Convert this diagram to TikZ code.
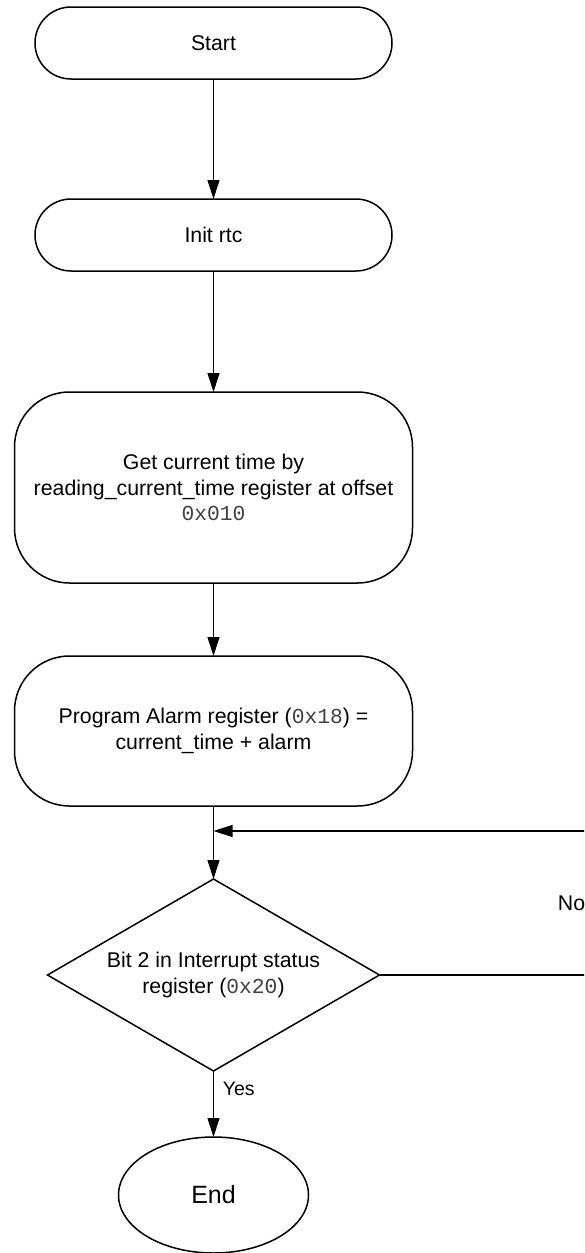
\documentclass[tikz,border=0pt]{standalone}
\usepackage{fontspec}
\setmainfont{Liberation Sans}
\setmonofont{Liberation Mono}
\usepackage{tikz}
\usetikzlibrary{positioning, shapes.geometric, arrows.meta}

\newcommand{\regval}[1]{{\ttfamily\color{black!75}#1}}

\begin{document}
\begin{tikzpicture}[
    x=1pt, y=-1pt,
    font=\fontsize{21.3}{25.5}\selectfont,
    every node/.style={outer sep=0pt},
    term/.style={draw, line width=1.5pt, rounded corners=36pt, minimum width=357pt, minimum height=72pt},
    proc/.style={draw, line width=1.5pt, rounded corners=55pt, minimum width=398pt, align=center},
    test/.style={draw, line width=1.5pt, diamond, aspect=1.73, inner sep=0pt, minimum width=332pt, minimum height=192pt, align=center},
    endnode/.style={draw, line width=1.5pt, ellipse, minimum width=190pt, minimum height=116pt, font=\fontsize{25}{30}\selectfont},
    flow/.style={line width=1.1pt, -{Triangle[length=19pt, width=12pt]}}
]
\useasboundingbox (0,0) rectangle (584,1253);
\clip (0,0) rectangle (584,1253);

  % Main chain
  \node[term] (start) at (213.5,43) {Start};
  \node[term, below=120pt of start] (init) {Init rtc};
  \node[proc, minimum height=191pt, below=121pt of init] (read) {Get current time by\\reading\_current\_time register at offset\\\regval{0x010}};
  \node[proc, minimum height=150pt, below=73pt of read] (prog) {Program Alarm register (\regval{0x18}) =\\current\_time + alarm};
  \node[test, below=73pt of prog] (bit) {Bit 2 in Interrupt status\\register (\regval{0x20})};
  \node[endnode, below=66pt of bit] (done) {End};

\draw[flow] (start) -- (init);
\draw[flow] (init) -- (read);
\draw[flow] (read) -- (prog);
\draw[flow] (prog) -- (bit);
\draw[flow] (bit) -- node[pos=0.27, right=6pt, font=\fontsize{19.5}{23}\selectfont] {Yes} (done);

  % Polling loop
  \coordinate[below=25pt of prog] (join);
  \coordinate[right=217pt of bit.east] (turn);
\draw[flow] (bit.east) -- (turn) -- node[left=8pt] {No} (turn |- join) -- (join);
\end{tikzpicture}
\end{document}
